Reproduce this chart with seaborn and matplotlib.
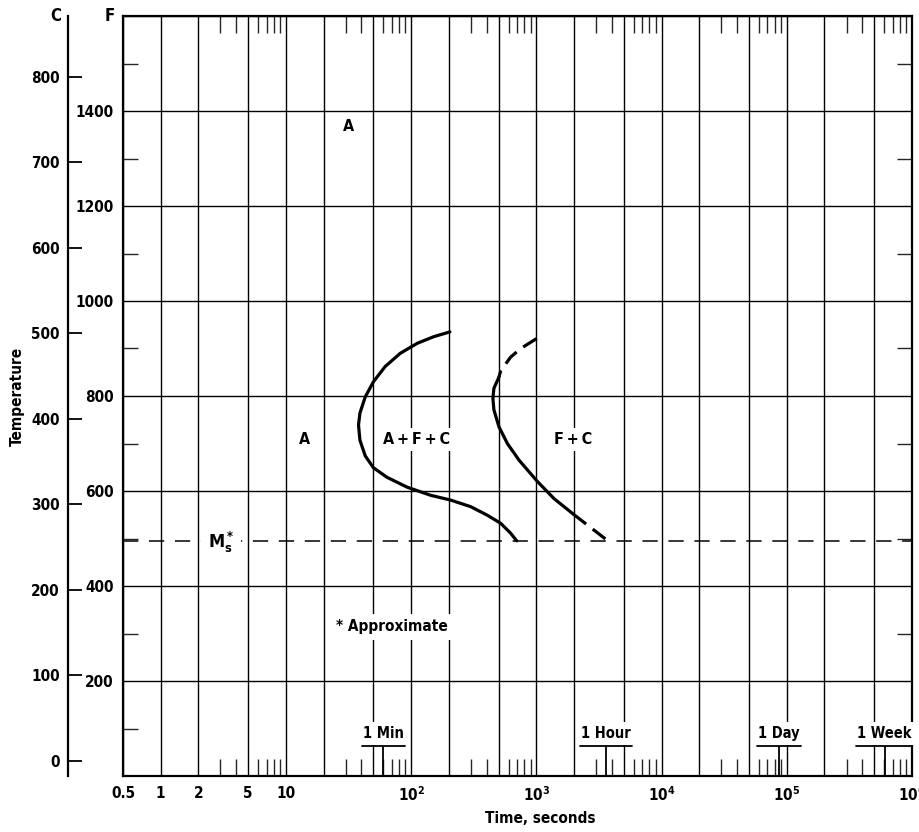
import matplotlib
matplotlib.use("Agg")
import matplotlib.pyplot as plt
import matplotlib.ticker as mticker
from matplotlib import font_manager as fm
import seaborn as sns

# ---- data -------------------------------------------------------------
# start of transformation (A -> A+F+C), seconds / deg F
start_time = [204, 152, 112, 82, 62, 50, 43, 39, 38, 39, 43, 50, 64, 93,
              143, 206, 299, 406, 519, 624, 697]
start_temp = [935, 925, 911, 890, 862, 830, 798, 764, 739, 707, 674, 649,
              629, 608, 591, 581, 567, 549, 532, 511, 495]

# end of transformation (-> F+C): estimated upper part, measured middle,
# estimated lower part
finish_upper_time = [1007, 750, 624, 519, 503]
finish_upper_temp = [921, 900, 882, 853, 840]
finish_mid_time = [503, 458, 450, 458, 503, 587, 727, 1020, 1384, 1980]
finish_mid_temp = [840, 816, 795, 771, 735, 700, 665, 620, 584, 551]
finish_lower_time = [1980, 3812]
finish_lower_temp = [551, 493]

ms_temp = 495  # martensite start, deg F

# axis ticks
x_grid = [0.5, 1, 2, 5, 10, 20, 50, 100, 200, 500, 1e3, 2e3, 5e3, 1e4,
          2e4, 5e4, 1e5, 2e5, 5e5, 1e6]
x_labels = ["0.5", "1", "2", "5", "10", "", "", r"$\mathregular{10^2}$", "",
            "", r"$\mathregular{10^3}$", "", "", r"$\mathregular{10^4}$", "",
            "", r"$\mathregular{10^5}$", "", "", r"$\mathregular{10^6}$"]
x_minor = [m * 10 ** k for k in range(0, 6) for m in (3, 4, 6, 7, 8, 9)]
f_major = [0, 200, 400, 600, 800, 1000, 1200, 1400, 1600]
f_labels = ["", "200", "400", "600", "800", "1000", "1200", "1400", ""]
f_minor = [100, 300, 500, 700, 900, 1100, 1300, 1500]
c_ticks = [0, 100, 200, 300, 400, 500, 600, 700, 800]

time_marks = [60, 3600, 86400, 604800]
time_mark_labels = ["1 Min", "1 Hour", "1 Day", "1 Week"]

# phase field labels: (time s, temp F, text)
TS = "\u2009"
field_labels = [(31.5, 1368, "A"), (14, 709, "A"),
                (111, 709, f"A{TS}+{TS}F{TS}+{TS}C"),
                (1954, 709, f"F{TS}+{TS}C")]

# ---- style ------------------------------------------------------------
sns.set_style("ticks")

# pick a narrow bold face if one is available
fonts = fm.fontManager.ttflist
if any(f.name == "Liberation Sans Narrow" for f in fonts):
    FAMILY, STRETCH = "Liberation Sans Narrow", "normal"
elif any(f.name == "DejaVu Sans" and f.stretch == "condensed" for f in fonts):
    FAMILY, STRETCH = "DejaVu Sans", "condensed"
else:
    FAMILY, STRETCH = "Liberation Sans", "normal"

plt.rcParams["font.family"] = [FAMILY, "DejaVu Sans"]
plt.rcParams["font.weight"] = "bold"
plt.rcParams["font.stretch"] = STRETCH
plt.rcParams["axes.labelweight"] = "bold"
plt.rcParams["axes.edgecolor"] = "black"
plt.rcParams["axes.labelcolor"] = "black"
plt.rcParams["text.color"] = "black"

FS = 11

fig = plt.figure(figsize=(9.2, 8.32), dpi=100)
W, H = 920, 832
ax = fig.add_axes([123 / W, 1 - 776 / H, 789 / W, 760 / H])

ax.set_xscale("log")
ax.set_xlim(0.5, 1e6)
ax.set_ylim(0, 1600)

# grid
ax.set_axisbelow(True)
ax.xaxis.set_major_locator(mticker.FixedLocator(x_grid))
ax.xaxis.set_major_formatter(mticker.FixedFormatter(x_labels))
ax.xaxis.set_minor_locator(mticker.FixedLocator(x_minor))
ax.xaxis.set_minor_formatter(mticker.NullFormatter())
ax.yaxis.set_major_locator(mticker.FixedLocator(f_major))
ax.yaxis.set_major_formatter(mticker.FixedFormatter(f_labels))
ax.yaxis.set_minor_locator(mticker.FixedLocator(f_minor))
ax.grid(True, which="major", color="black", lw=1.0)

ax.tick_params(axis="both", which="major", length=0, labelsize=FS,
               colors="black")
ax.tick_params(axis="x", which="major", pad=7)
ax.tick_params(axis="y", which="major", pad=6.5)
ax.tick_params(axis="x", which="minor", direction="in", length=12,
               width=1.0, top=True, bottom=True)
ax.tick_params(axis="y", which="minor", direction="in", length=11,
               width=1.0, left=True, right=True)
for s in ax.spines.values():
    s.set_visible(True)
    s.set_linewidth(1.6)
    s.set_color("black")

# curves
sns.lineplot(x=start_time, y=start_temp, sort=False, estimator=None,
             color="black", lw=2.3, ax=ax, zorder=4)
sns.lineplot(x=finish_upper_time, y=finish_upper_temp, sort=False,
             estimator=None, color="black", lw=2.3, ax=ax, zorder=4)
ax.lines[-1].set_linestyle((0, (5, 2.6)))
sns.lineplot(x=finish_mid_time, y=finish_mid_temp, sort=False,
             estimator=None, color="black", lw=2.3, ax=ax, zorder=4)
sns.lineplot(x=finish_lower_time, y=finish_lower_temp, sort=False,
             estimator=None, color="black", lw=2.3, ax=ax, zorder=4)
ax.lines[-1].set_linestyle((0, (5, 2.6)))

# Ms line
ax.axhline(ms_temp, color="black", lw=1.1, ls=(0, (10, 7)), zorder=3)
ax.text(3.05, ms_temp - 4, r"$\mathregular{M_s^*}$", ha="center",
        va="center", fontsize=FS + 2, zorder=5,
        bbox=dict(facecolor="white", edgecolor="none", pad=5))

ax.text(25, 314, "* Approximate", ha="left", va="center", fontsize=FS,
        zorder=5, bbox=dict(facecolor="white", edgecolor="none", pad=4))

for t, f, s in field_labels:
    ax.text(t, f, s, ha="center", va="center", fontsize=FS + 0.5, zorder=5,
            bbox=dict(facecolor="white", edgecolor="none", pad=3))

# time markers with labels and underline bars
fig.canvas.draw()
inv = ax.transData.inverted()
for t, s in zip(time_marks, time_mark_labels):
    txt = ax.text(t, 89, s, ha="center", va="center", fontsize=FS - 0.5,
                  zorder=5,
                  bbox=dict(facecolor="white", edgecolor="none", pad=3))
    bb = txt.get_window_extent(renderer=fig.canvas.get_renderer())
    x0 = inv.transform((bb.x0 - 1, 0))[0]
    x1 = inv.transform((bb.x1 + 1, 0))[0]
    ax.plot([x0, x1], [63, 63], color="black", lw=1.3, zorder=6)
    ax.vlines(t, 0, 63, color="black", lw=1.3, zorder=6)


# Celsius scale on a separate spine to the left
def f2c(f):
    return (f - 32) * 5 / 9


def c2f(c):
    return c * 9 / 5 + 32


sec = ax.secondary_yaxis(-55 / 789, functions=(f2c, c2f))
sec.set_yticks(c_ticks)
sec.tick_params(direction="in", length=10, width=1.3, pad=6, labelsize=FS,
                colors="black")
for s in sec.spines.values():
    s.set_linewidth(1.6)
    s.set_color("black")

ax.text(-55 / 789 - 0.016, 1.0, "C", transform=ax.transAxes, ha="center",
        va="center", fontsize=FS + 1)
ax.text(-0.017, 1.0, "F", transform=ax.transAxes, ha="center",
        va="center", fontsize=FS + 1)

ax.set_xlabel("Time, seconds", fontsize=FS)
ax.xaxis.set_label_coords((540 - 123) / 789, -0.046)
ax.set_ylabel("Temperature", fontsize=FS)
ax.yaxis.set_label_coords((25 - 123) / 789, 0.5)

fig.savefig("out.png", dpi=100, facecolor="white")
